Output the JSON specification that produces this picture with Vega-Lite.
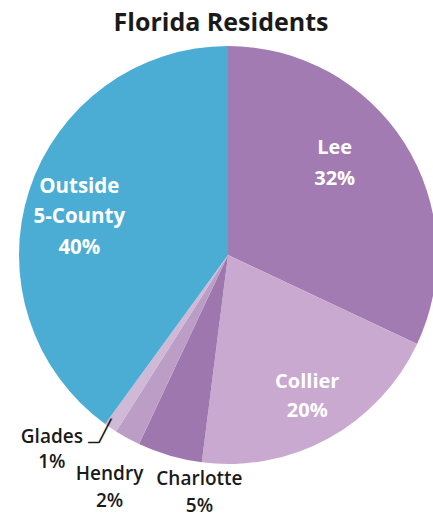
{
  "$schema": "https://vega.github.io/schema/vega-lite/v6.json",
  "width": 456,
  "height": 420,
  "autosize": "none",
  "padding": {"left": 0, "top": 45, "right": 0, "bottom": 52},
  "background": "white",
  "title": {
    "text": "Florida Residents",
    "font": "Open Sans",
    "fontSize": 25,
    "fontWeight": "bold",
    "color": "#1a1a1a",
    "anchor": "middle",
    "frame": "group",
    "baseline": "alphabetic",
    "offset": 13,
    "dx": -7,
    "dy": 24
  },
  "data": {
    "values": [
      {"county": "Lee", "pct": 32, "rank": 1, "label": "Lee\n32%"},
      {"county": "Collier", "pct": 20, "rank": 2, "label": "Collier\n20%"},
      {"county": "Charlotte", "pct": 5, "rank": 3, "label": "Charlotte\n5%"},
      {"county": "Hendry", "pct": 2, "rank": 4, "label": "Hendry\n2%"},
      {"county": "Glades", "pct": 1, "rank": 5, "label": "Glades\n1%"},
      {"county": "Outside 5-County", "pct": 40, "rank": 6, "label": "Outside\n5-County\n40%"}
    ]
  },
  "encoding": {
    "theta": {"field": "pct", "type": "quantitative", "stack": true},
    "order": {"field": "rank", "type": "quantitative"}
  },
  "layer": [
    {
      "mark": {"type": "arc", "radius": 209},
      "encoding": {
        "color": {
          "field": "county",
          "type": "nominal",
          "legend": null,
          "scale": {
            "domain": ["Lee", "Collier", "Charlotte", "Hendry", "Glades", "Outside 5-County"],
            "range": ["#A17BB1", "#C9A9D0", "#9D77AD", "#BC9DC6", "#D0B8D7", "#4CADD4"]
          }
        }
      }
    },
    {
      "mark": {"type": "text", "radius": 150, "dx": -20, "dy": -27, "font": "Open Sans", "fontSize": 20, "fontWeight": "bold", "color": "white", "lineBreak": "\n", "lineHeight": 31, "align": "center", "baseline": "middle"},
      "encoding": {"text": {"condition": {"test": "datum.rank == 1", "field": "label"}, "value": ""}}
    },
    {
      "mark": {"type": "text", "radius": 150, "dx": 7, "dy": -4, "font": "Open Sans", "fontSize": 20, "fontWeight": "bold", "color": "white", "lineBreak": "\n", "lineHeight": 29, "align": "center", "baseline": "middle"},
      "encoding": {"text": {"condition": {"test": "datum.rank == 2", "field": "label"}, "value": ""}}
    },
    {
      "mark": {"type": "text", "radius": 150, "dx": -6, "dy": -22, "font": "Open Sans", "fontSize": 20.5, "fontWeight": "bold", "color": "white", "lineBreak": "\n", "lineHeight": 30.5, "align": "center", "baseline": "middle"},
      "encoding": {"text": {"condition": {"test": "datum.rank == 6", "field": "label"}, "value": ""}}
    },
    {
      "mark": {"type": "text", "radius": 235, "dx": 37, "dy": -2, "font": "Open Sans", "fontSize": 19, "fontWeight": 600, "color": "#1a1a1a", "lineBreak": "\n", "lineHeight": 27, "align": "center", "baseline": "middle"},
      "encoding": {"text": {"condition": {"test": "datum.rank == 3", "field": "label"}, "value": ""}}
    },
    {
      "mark": {"type": "text", "radius": 250, "dx": 2, "dy": 0, "font": "Open Sans", "fontSize": 19, "fontWeight": 600, "color": "#1a1a1a", "lineBreak": "\n", "lineHeight": 27, "align": "center", "baseline": "middle"},
      "encoding": {"text": {"condition": {"test": "datum.rank == 4", "field": "label"}, "value": ""}}
    },
    {
      "mark": {"type": "text", "radius": 260, "dx": -30, "dy": -33, "font": "Open Sans", "fontSize": 19, "fontWeight": 600, "color": "#1a1a1a", "lineBreak": "\n", "lineHeight": 25, "align": "center", "baseline": "middle"},
      "encoding": {"text": {"condition": {"test": "datum.rank == 5", "field": "label"}, "value": ""}}
    },
    {
      "mark": {"type": "text", "radius": 260, "dx": 18, "dy": -38, "font": "DejaVu Sans", "fontSize": 21, "color": "#1a1a1a", "align": "center", "baseline": "middle"},
      "encoding": {"text": {"condition": {"test": "datum.rank == 5", "value": "_╱"}, "value": ""}}
    }
  ]
}
